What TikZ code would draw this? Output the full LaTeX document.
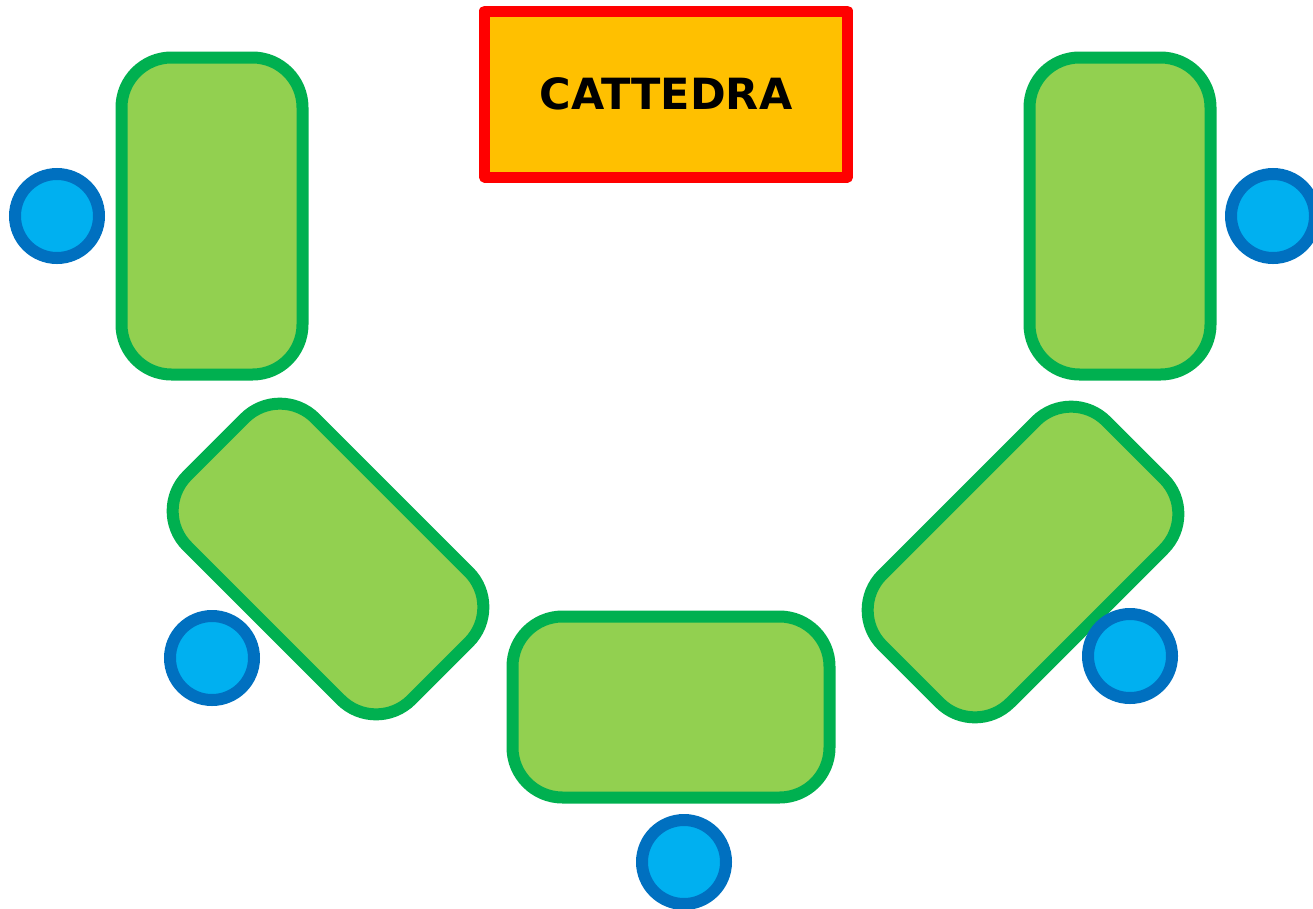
\documentclass[tikz,border=0pt]{standalone}
\usepackage{fontspec}
\newfontfamily\labelfont{DejaVu Sans}
\definecolor{deskfill}{HTML}{92D050}
\definecolor{deskline}{HTML}{00B050}
\definecolor{chairfill}{HTML}{00B0F0}
\definecolor{chairline}{HTML}{0070C0}
\definecolor{boardfill}{HTML}{FFC000}
\begin{document}
\begin{tikzpicture}[x=1pt, y=-1pt,
    banco/.style={rectangle, rounded corners=50pt, inner sep=0pt, minimum width=181pt, minimum height=317pt, line width=12pt, line join=round, draw=deskline, fill=deskfill},
    sedia/.style={circle, inner sep=0pt, minimum size=84pt, line width=12pt, draw=chairline, fill=chairfill}]
    \useasboundingbox (0, 0) rectangle (1313, 908);

    \node[rectangle, inner sep=0pt, minimum width=363pt, minimum height=166pt, line width=11pt, line join=round, draw=red, fill=boardfill, font=\labelfont\bfseries\fontsize{43}{50}\selectfont] (cattedra) at (666, 94) {CATTEDRA};

    \node[banco] (banco-1) at (212, 216) {};
    \node[banco] (banco-2) at (1120, 216) {};
    \node[banco, rotate=45] (banco-3) at (328, 559) {};
    \node[banco, rotate=-45] (banco-4) at (1023, 562) {};
    \node[banco, rotate=90] (banco-5) at (671, 707) {};

    \node[sedia] (sedia-1) at (57, 216) {};
    \node[sedia] (sedia-2) at (1273, 216) {};
    \node[sedia] (sedia-3) at (212, 658) {};
    \node[sedia] (sedia-4) at (1130, 656) {};
    \node[sedia] (sedia-5) at (684, 862) {};
\end{tikzpicture}
\end{document}
